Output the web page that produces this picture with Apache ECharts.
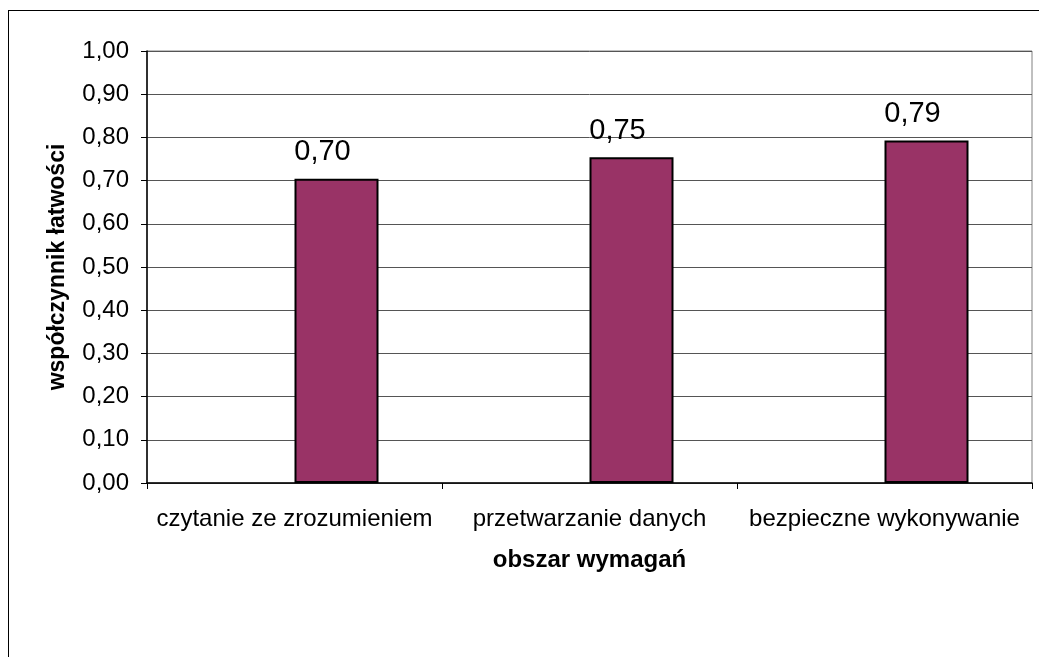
<!DOCTYPE html>
<html>
<head>
<meta charset="utf-8">
<script src="https://cdn.jsdelivr.net/npm/echarts@6/dist/echarts.min.js"></script>
<style>
  html, body { margin: 0; padding: 0; background: #fff; overflow: hidden; }
  #chart { position: absolute; left: 0; top: 0; width: 1039px; height: 657px; }
  /* outer frame of the original sheet, runs off the right and bottom edge */
  #frame { position: absolute; left: 8px; top: 10px; width: 1100px; height: 700px; border: 1.5px solid #000; }
</style>
</head>
<body>
<div id="frame"></div>
<div id="chart"></div>
<script>
// data
var categories = ["czytanie ze zrozumieniem", "przetwarzanie danych", "bezpieczne wykonywanie"];
var values = [0.704, 0.754, 0.793];
// the original sheet had an empty first series, so the bars sit right of centre
var emptySeries = [null, null, null];
var yTicks = { min: 0, max: 1, interval: 0.1 };
var xTitle = "obszar wymagań";
var yTitle = "współczynnik łatwości";

var barColor = "#993366";
var font = "'Liberation Sans', Arial, sans-serif";

function plFormat(v) {
  // polish decimal comma
  return v.toFixed(2).replace(".", ",");
}

var chart = echarts.init(document.getElementById("chart"));

var option = {
  animation: false,
  textStyle: { fontFamily: font },
  grid: {
    left: 147,
    right: 7,
    top: 51,
    bottom: 174,
    show: true,
    borderColor: "#808080",
    borderWidth: 1
  },
  xAxis: {
    type: "category",
    data: categories,
    boundaryGap: true,
    name: xTitle,
    nameLocation: "middle",
    nameGap: 65,
    nameTextStyle: {
      color: "#000",
      fontSize: 24,
      fontWeight: "bold",
      fontFamily: font
    },
    axisLine: { show: true, lineStyle: { color: "#000", width: 1.5 } },
    axisTick: { show: true, length: 6, lineStyle: { color: "#000" } },
    axisLabel: {
      color: "#000",
      fontSize: 24,
      fontFamily: font,
      margin: 24,
      interval: 0
    },
    splitLine: { show: false }
  },
  yAxis: {
    type: "value",
    min: yTicks.min,
    max: yTicks.max,
    interval: yTicks.interval,
    name: yTitle,
    nameLocation: "middle",
    nameGap: 78,
    nameTextStyle: {
      color: "#000",
      fontSize: 23,
      fontWeight: "bold",
      fontFamily: font
    },
    axisLine: { show: true, lineStyle: { color: "#000", width: 1.5 } },
    axisTick: { show: true, length: 6, lineStyle: { color: "#000" } },
    axisLabel: {
      color: "#000",
      fontSize: 24,
      fontFamily: font,
      margin: 18,
      formatter: function (v) { return plFormat(v); }
    },
    splitLine: { show: true, lineStyle: { color: "#555", width: 1 } }
  },
  series: [
    {
      type: "bar",
      name: "empty",
      data: emptySeries,
      barWidth: 84,
      barGap: "0%"
    },
    {
      type: "bar",
      name: "values",
      data: values,
      barWidth: 84,
      barGap: "0%",
      itemStyle: {
        color: barColor,
        borderColor: "#000",
        borderWidth: 2
      },
      label: {
        show: true,
        position: "top",
        distance: 12,
        offset: [-14, 0],
        color: "#000",
        fontSize: 29,
        fontFamily: font,
        formatter: function (p) { return plFormat(p.value); }
      }
    }
  ]
};

chart.setOption(option);
</script>
</body>
</html>
